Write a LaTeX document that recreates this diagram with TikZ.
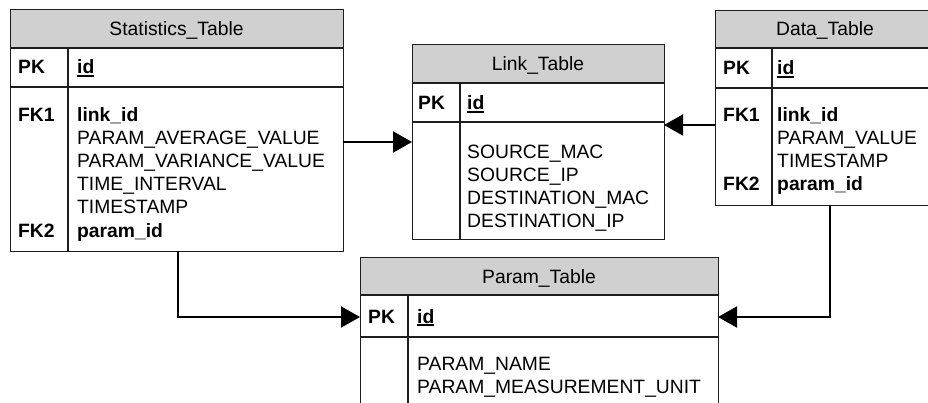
\documentclass[tikz,border=0pt]{standalone}
\usepackage{fontspec}
\setmainfont{Liberation Sans}
\usetikzlibrary{arrows.meta}
\definecolor{headgray}{HTML}{D0D0D0}
\definecolor{rulecol}{HTML}{1E1E1E}
% underlined primary key name with a heavier rule
\newcommand\keyul[1]{\leavevmode\vtop{\hbox{#1}\kern1.3pt\hrule height1.8pt}}
% #1 name, #2 left, #3 top, #4 right, #5 bottom,
% #6 header bottom, #7 key row bottom, #8 column divider, #9 title
\newcommand\ertable[9]{%
  \fill[headgray] (#2,#3) rectangle (#4,#6);
  \node[frame,minimum width={(#4-#2)*1pt},minimum height={(#5-#3)*1pt}] (#1) at (#2,#3) {};
  \draw[tblrule] (#2,#6) -- (#4,#6) (#2,#7) -- (#4,#7) (#8,#6) -- (#8,#5);
  \node[ttl] (#1-title) at ({(#2+#4)/2},{(#3+#6)/2+7}) {#9};
}
\begin{document}
\begin{tikzpicture}[x=1pt,y=-1pt,
  frame/.style={draw=rulecol,line width=1.1pt,inner sep=0pt,anchor=north west},
  tblrule/.style={draw=rulecol,line width=1.1pt},
  txt/.style={inner sep=0pt,anchor=base west,font=\fontsize{19.3}{23}\selectfont},
  key/.style={txt,font=\fontsize{19.3}{23}\selectfont\bfseries},
  ttl/.style={inner sep=0pt,anchor=base,font=\fontsize{19.3}{23}\selectfont},
  conn/.style={draw=black,line width=2pt,-{Triangle[length=19pt,width=21pt]}}]
\useasboundingbox (0,0) rectangle (928,403);

% Statistics_Table
\ertable{stat}{10}{9}{343}{251}{48}{87}{68}{Statistics\_Table}
\node[key] (stat-pk)  at (18,74)  {PK};
\node[key] (stat-id)  at (77,74)  {\keyul{id}};
\node[key] (stat-fk1) at (18,122) {FK1};
\node[key] (stat-lid) at (77,122) {link\_id};
\node[txt] (stat-avg) at (77,145) {PARAM\_AVERAGE\_VALUE};
\node[txt] (stat-var) at (77,168) {PARAM\_VARIANCE\_VALUE};
\node[txt] (stat-int) at (77,191) {TIME\_INTERVAL};
\node[txt] (stat-ts)  at (77,214) {TIMESTAMP};
\node[key] (stat-fk2) at (18,237) {FK2};
\node[key] (stat-pid) at (77,237) {param\_id};

% Link_Table
\ertable{link}{412}{44}{664}{239}{83}{122}{460}{Link\_Table}
\node[key] (link-pk)  at (418,110) {PK};
\node[key] (link-id)  at (467,110) {\keyul{id}};
\node[txt] (link-sm)  at (467,159) {SOURCE\_MAC};
\node[txt] (link-si)  at (467,182) {SOURCE\_IP};
\node[txt] (link-dm)  at (467,205) {DESTINATION\_MAC};
\node[txt] (link-di)  at (467,228) {DESTINATION\_IP};

% Data_Table
\ertable{data}{715}{10}{935}{205}{48}{88}{772}{Data\_Table}
\node[key] (data-pk)  at (723,75)  {PK};
\node[key] (data-id)  at (777,75)  {\keyul{id}};
\node[key] (data-fk1) at (723,122) {FK1};
\node[key] (data-lid) at (777,122) {link\_id};
\node[txt] (data-val) at (777,145) {PARAM\_VALUE};
\node[txt] (data-ts)  at (777,168) {TIMESTAMP};
\node[key] (data-fk2) at (723,191) {FK2};
\node[key] (data-pid) at (777,191) {param\_id};

% Param_Table
\ertable{param}{360}{257}{718}{420}{295}{337}{408}{Param\_Table}
\node[key] (param-pk) at (368,323) {PK};
\node[key] (param-id) at (417,323) {\keyul{id}};
\node[txt] (param-nm) at (417,370) {PARAM\_NAME};
\node[txt] (param-un) at (417,393) {PARAM\_MEASUREMENT\_UNIT};

% foreign key connectors
\coordinate (statLinkOut) at (343,142);
\coordinate (statLinkIn)  at (412,142);
\coordinate (dataLinkOut) at (715,125);
\coordinate (dataLinkIn)  at (664,125);
\coordinate (statParamOut) at (178,251);
\coordinate (statParamIn)  at (360,317);
\coordinate (dataParamOut) at (830,205);
\coordinate (dataParamIn)  at (718,317);
\draw[conn] (statLinkOut) -- (statLinkIn);
\draw[conn] (dataLinkOut) -- (dataLinkIn);
\draw[conn] (statParamOut) |- (statParamIn);
\draw[conn] (dataParamOut) |- (dataParamIn);
\end{tikzpicture}
\end{document}
